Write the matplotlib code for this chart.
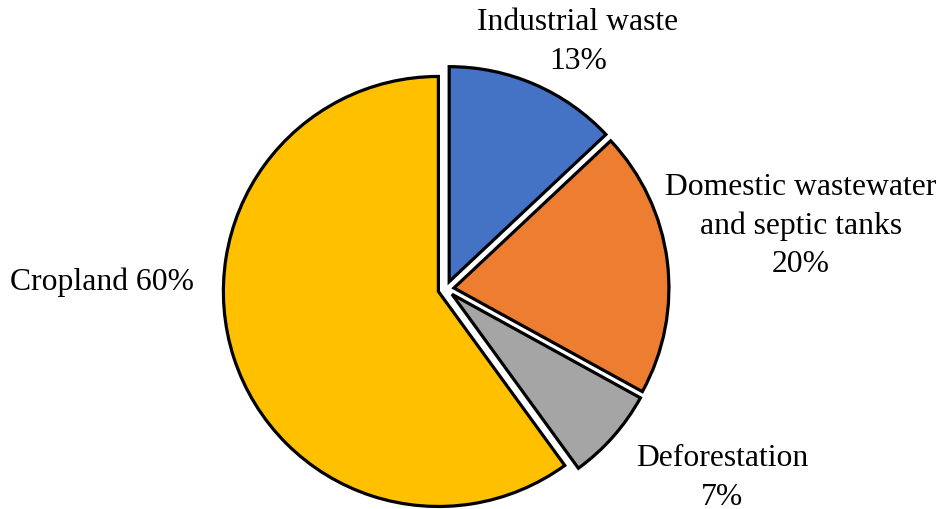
import matplotlib.pyplot as plt

# slice data, clockwise from 12 o'clock
sources = ["Industrial waste", "Domestic wastewater\nand septic tanks", "Deforestation", "Cropland"]
shares = [13, 20, 7, 60]
colors = ["#4472C4", "#ED7D31", "#A5A5A5", "#FFC000"]
labels = ["Industrial waste\n13%", "Domestic wastewater\nand septic tanks\n20%",
          "Deforestation\n7%", "Cropland 60%"]
# label anchor positions (pixel space, y up)
label_pos = [(578, 467), (801, 283), (722, 31), (102, 227)]

W, H = 945, 509
fig = plt.figure(figsize=(W / 100, H / 100), dpi=100)
ax = fig.add_axes([0, 0, 1, 1])

# explode is given in data units (pixels here)
ax.pie(shares, colors=colors, startangle=90, counterclock=False,
       center=(446, 220), radius=215, explode=[8] * len(shares),
       wedgeprops=dict(edgecolor="black", linewidth=2.3, joinstyle="miter"))

for text, (x, y) in zip(labels, label_pos):
    ax.text(x, y, text, ha="center", va="center", fontsize=22.8,
            family="Liberation Serif", linespacing=1.42)

ax.set_xlim(0, W)
ax.set_ylim(0, H)
ax.set_aspect("equal")
ax.axis("off")

fig.savefig("out.png", dpi=100)
